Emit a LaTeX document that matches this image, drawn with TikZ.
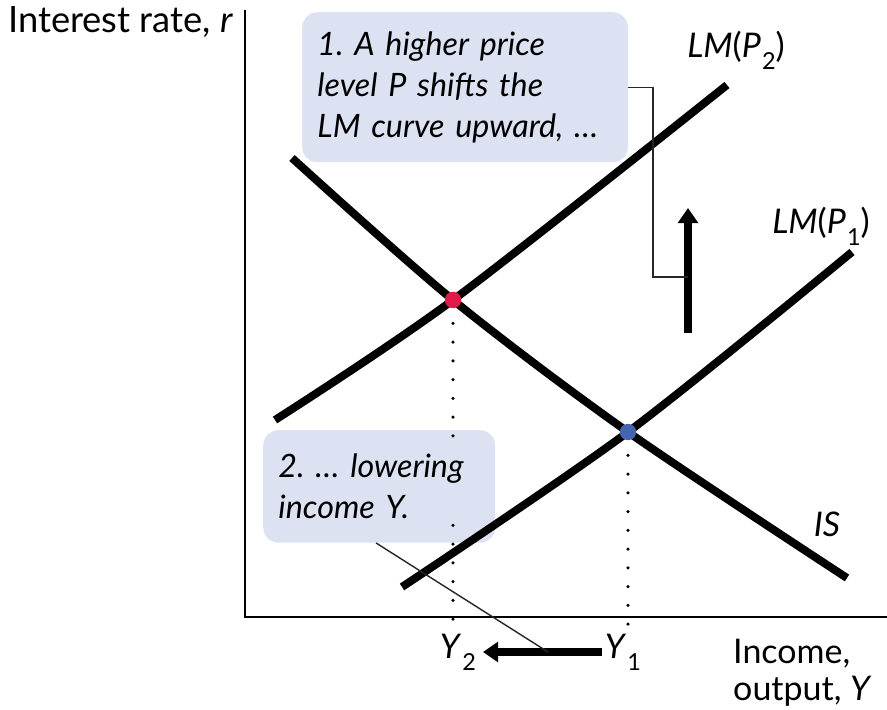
\documentclass[tikz,border=0pt]{standalone}
\usepackage{fontspec}
\setmainfont{Lato}
\usetikzlibrary{arrows.meta,positioning}
\definecolor{calloutblue}{HTML}{DCE2F2}
\definecolor{eqred}{HTML}{E0194B}
\definecolor{eqblue}{HTML}{4565B0}
\tikzset{
  callout/.style={fill=calloutblue, rounded corners=13pt, anchor=north west,
                  align=left, inner xsep=13pt,
                  font=\fontsize{27.5}{35}\selectfont\itshape},
  curve/.style={line width=6.8pt},
  axis/.style={line width=1.6pt},
  dotline/.style={line width=3pt, line cap=round, dash pattern=on 0pt off 16pt},
  pointer/.style={line width=1.2pt, draw=black!85},
  bigarrow/.style={-{Triangle[length=13pt,width=17pt]}, line width=6.5pt},
  eqdot/.style={circle, inner sep=0pt, minimum size=14pt},
  lbl/.style={font=\fontsize{29}{31.5}\selectfont, inner sep=0pt},
}
\newcommand{\sub}[1]{\kern1pt\raisebox{-10pt}{\fontsize{20}{20}\selectfont\upshape #1}}
\frenchspacing
\begin{document}
\begin{tikzpicture}[x=0.03cm, y=-0.03cm]
  \useasboundingbox (0,0) rectangle (887,710);
  % callouts
  \node[callout, text width=252pt, minimum height=128pt] (boxA) at (302,12)
    {1. A higher price\\level P shifts the\\LM curve upward, \dots};
  \node[callout, text width=172pt, minimum height=96pt] (boxB) at (263,430)
    {2. \dots{} lowering\\income Y.};
  % axes
  \coordinate (origin) at (245,617);
  \draw[axis] (245,10) -- (origin) -- (887,617);
  % curves
  \draw[curve] plot[smooth] coordinates {(292,158) (453,300) (628,432) (847,578)};
  \draw[curve] plot[smooth] coordinates {(275,420) (453,300) (727,85)};
  \draw[curve] plot[smooth] coordinates {(402,587) (628,432) (852,252)};
  % equilibria
  \node[eqdot, fill=eqred] (eqA) at (453,300) {};
  \node[eqdot, fill=eqblue] (eqB) at (628,432) {};
  \draw[dotline] ([yshift=-20]eqA.center) -- ([yshift=-10]eqA |- boxB.north);
  \draw[dotline] ([yshift=15]eqA |- boxB.south) -- ([yshift=-8]eqA |- origin);
  \draw[dotline] ([yshift=-20]eqB.center) -- ([yshift=-8]eqB |- origin);
  % labels
  \node[lbl, anchor=west, font=\fontsize{31}{33}\selectfont] (ylab) at (8,22)
    {Interest rate, \textit{r}};
  \node[lbl, anchor=north west, align=left] (xlab) at (733,639)
    {Income,\\output, \textit{Y}};
  \node[lbl] (y2) at (458,652) {\textit{Y}\sub{2}};
  \node[lbl] (y1) at (623,652) {\textit{Y}\sub{1}};
  \node[lbl] (lm2) at (736,50) {\textit{LM}(\textit{P}\sub{2})};
  \node[lbl] (lm1) at (821,226) {\textit{LM}(\textit{P}\sub{1})};
  \node[lbl] (is) at (827,524) {\textit{IS}};
  % shift arrows
  \coordinate (upfrom) at (688,333);
  \coordinate (upto) at (688,208);
  \coordinate (brk) at (688,277);
  \coordinate (ptr) at (548,652);
  \draw[bigarrow] (602,652) -- (483,652);
  \draw[bigarrow] (upfrom) -- (upto);
  \draw[pointer] (boxA.east) -- ++(25,0) |- (brk);
  \draw[pointer] (boxB.south -| 376,0) -- (ptr);
\end{tikzpicture}
\end{document}
